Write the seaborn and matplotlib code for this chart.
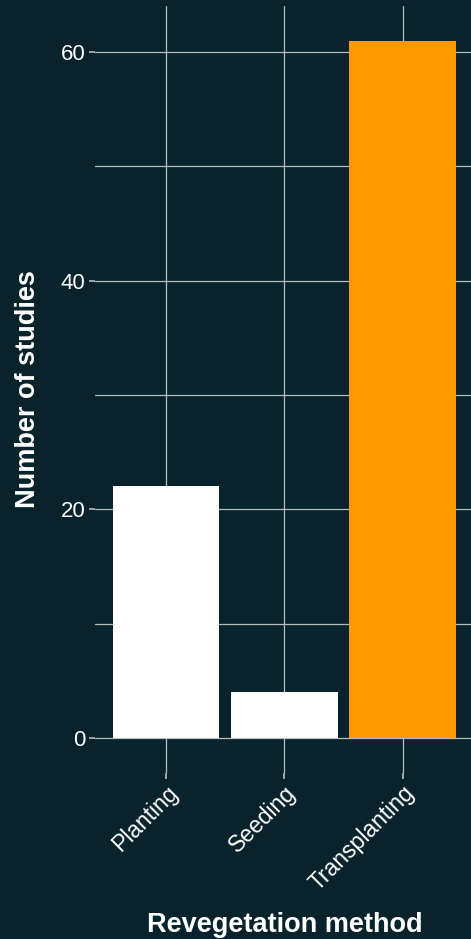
import matplotlib
matplotlib.use("Agg")
import matplotlib.pyplot as plt
import seaborn as sns
import pandas as pd
from matplotlib.ticker import MultipleLocator

methods = ["Planting", "Seeding", "Transplanting"]
counts = [22, 4, 61]
bar_colors = ["#ffffff", "#ffffff", "#ff9900"]

bg = "#08232b"
grid_c = "#b8bcbd"

sns.set_theme(style="dark")
plt.rcParams["font.family"] = ["Liberation Sans", "DejaVu Sans"]

df = pd.DataFrame({"method": methods, "count": counts})

W, H = 471, 939
left_px, right_px, top_px, bot_px = 95, 473.7, 5.7, 772.9
fig = plt.figure(figsize=(W/100, H/100), dpi=100, facecolor=bg)
ax = fig.add_axes([left_px/W, 1-bot_px/H, (right_px-left_px)/W, (bot_px-top_px)/H])
ax.set_facecolor(bg)

sns.barplot(data=df, x="method", y="count", hue="method",
            palette=dict(zip(methods, bar_colors)), order=methods,
            width=0.9, saturation=1, legend=False, ax=ax, linewidth=0)

ax.set_xlim(-0.6, 2.6)
ax.set_ylim(-3.05, 64.05)
ax.yaxis.set_major_locator(MultipleLocator(20))
ax.yaxis.set_minor_locator(MultipleLocator(10))
ax.set_axisbelow(True)
ax.grid(True, which="major", axis="both", color=grid_c, linewidth=0.9)
ax.grid(True, which="minor", axis="y", color=grid_c, linewidth=0.9)
for s in ax.spines.values():
    s.set_visible(False)

ax.tick_params(axis="y", which="major", length=4, width=1.2, color=grid_c,
               labelcolor="white", labelsize=16, pad=3, left=True)
ax.tick_params(axis="y", which="minor", length=0)
ax.tick_params(axis="x", length=4, width=1.2, color=grid_c,
               labelcolor="white", labelsize=16.5, pad=2, bottom=True)
for lab in ax.get_xticklabels():
    lab.set_rotation(45)
    lab.set_ha("right")
    lab.set_rotation_mode("anchor")
    lab.set_va("top")

ax.set_xlabel("Revegetation method", color="white", fontsize=19.5,
              fontweight="bold", labelpad=12)
ax.set_ylabel("Number of studies", color="white", fontsize=19.5,
              fontweight="bold", labelpad=14)

fig.savefig("out.png", dpi=100, facecolor=bg)
